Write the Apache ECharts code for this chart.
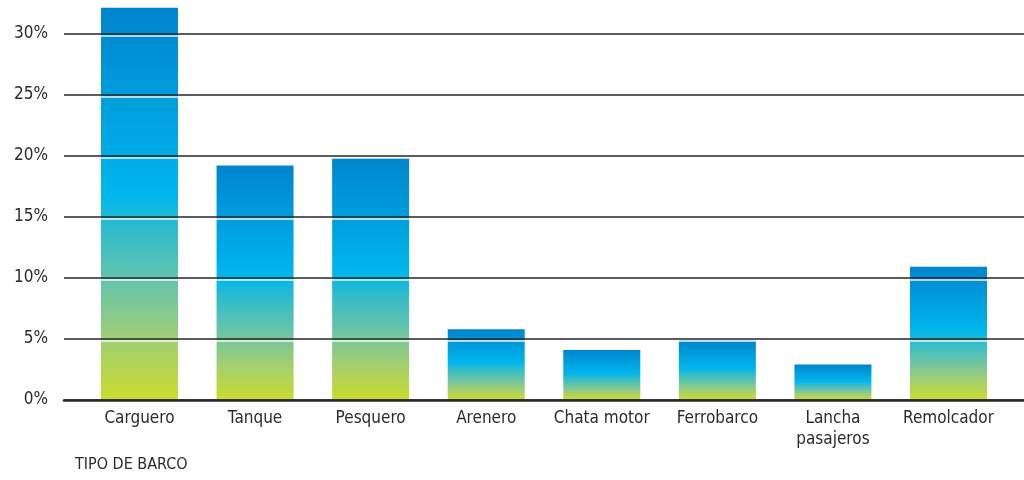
<!DOCTYPE html>
<html>
<head>
<meta charset="utf-8">
<style>
  html, body { margin: 0; padding: 0; background: #ffffff; }
  #chart { width: 1024px; height: 480px; }
</style>
<script src="https://cdn.jsdelivr.net/npm/echarts@6/dist/echarts.min.js"></script>
</head>
<body>
<div id="chart"></div>
<script>
// Participación por tipo de barco (%)
const categories = ['Carguero', 'Tanque', 'Pesquero', 'Arenero', 'Chata motor', 'Ferrobarco', 'Lancha\npasajeros', 'Remolcador'];
const shares = [32.1, 19.2, 19.8, 5.8, 4.1, 4.9, 2.9, 10.9];
const axisTitle = 'TIPO DE BARCO';

const FONT = '"Liberation Sans Narrow", "Arial Narrow", "DejaVu Sans Condensed", sans-serif';
const TEXT = '#2b2b2b';

// vertical gradient per bar: blue at the top, cyan in the middle, lime at the base
const barGradient = {
  type: 'linear', x: 0, y: 0, x2: 0, y2: 1,
  colorStops: [
    { offset: 0.00, color: '#0085cd' },
    { offset: 0.48, color: '#00b7ed' },
    { offset: 0.56, color: '#2dbccc' },
    { offset: 0.70, color: '#66c4aa' },
    { offset: 0.85, color: '#a2cf72' },
    { offset: 1.00, color: '#cadc2b' }
  ]
};

const chart = echarts.init(document.getElementById('chart'), null, { renderer: 'canvas' });

// value scale tops out at the 30% rule; taller bars run past it
const yBase = { type: 'value', min: 0, max: 30, interval: 5 };

chart.setOption({
  animation: false,
  backgroundColor: '#ffffff',
  grid: [
    // bars
    { left: 81.7, right: 17.7, top: 33.5, bottom: 80 },
    // light rule just under each gridline
    { left: 64, right: 0, top: 35.5, bottom: 78 },
    // gridlines, y labels and base line
    { left: 64, right: 0, top: 33.5, bottom: 80 }
  ],
  xAxis: [
    {
      gridIndex: 0, type: 'category', data: categories,
      axisLine: { show: false }, axisTick: { show: false },
      axisLabel: { color: TEXT, fontFamily: FONT, fontSize: 17, margin: 8, lineHeight: 21, interval: 0 }
    },
    { gridIndex: 1, type: 'value', show: false },
    {
      gridIndex: 2, type: 'value', min: 0, max: 1, z: 5,
      axisLine: { show: true, lineStyle: { color: '#2a2a2a', width: 2.6 } },
      axisTick: { show: false }, axisLabel: { show: false }, splitLine: { show: false }
    }
  ],
  yAxis: [
    Object.assign({ gridIndex: 0, show: false }, yBase),
    Object.assign({
      gridIndex: 1, z: 3,
      axisLine: { show: false }, axisTick: { show: false }, axisLabel: { show: false },
      splitLine: { show: true, lineStyle: { color: 'rgba(255,255,255,0.9)', width: 1.5 } }
    }, yBase),
    Object.assign({
      gridIndex: 2, z: 4,
      axisLine: { show: false }, axisTick: { show: false },
      axisLabel: { color: TEXT, fontFamily: FONT, fontSize: 17, margin: 16, formatter: '{value}%' },
      splitLine: { show: true, lineStyle: { color: '#262626', width: 1.5 } }
    }, yBase)
  ],
  series: [
    {
      type: 'bar',
      xAxisIndex: 0, yAxisIndex: 0,
      data: shares,
      barWidth: 77,
      clip: false,
      z: 2,
      itemStyle: { color: barGradient }
    }
  ],
  graphic: [
    {
      type: 'text', left: 75, top: 457,
      style: { text: axisTitle, fill: TEXT, font: '16px ' + FONT }
    }
  ]
});
</script>
</body>
</html>
